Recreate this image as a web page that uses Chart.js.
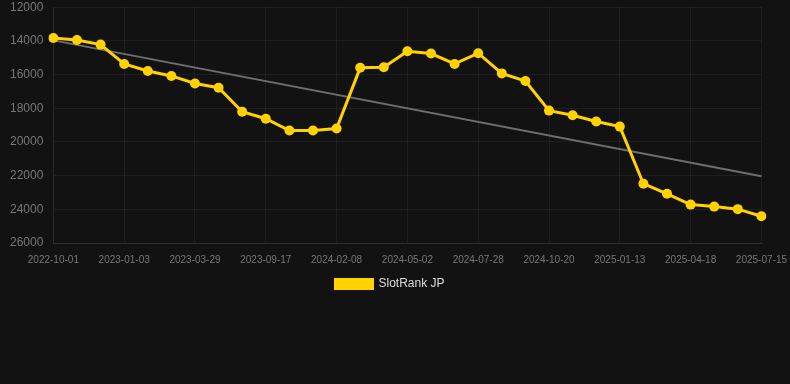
<!DOCTYPE html>
<html>
<head>
<meta charset="utf-8">
<script src="https://cdn.jsdelivr.net/npm/chart.js@4"></script>
<style>
	html, body { margin: 0; padding: 0; background: #121212; }
	.chartbox { width: 790px; height: 300px; }
</style>
</head>
<body>
<div class="chartbox"><canvas id="rankChart"></canvas></div>
<script>
// dates of each rank check
var labels = [
	'2022-10-01', '2022-11-01', '2022-12-02', '2023-01-03', '2023-01-31', '2023-02-28',
	'2023-03-29', '2023-05-25', '2023-07-21', '2023-09-17', '2023-11-05', '2023-12-22',
	'2024-02-08', '2024-03-07', '2024-04-04', '2024-05-02', '2024-05-31', '2024-06-29',
	'2024-07-28', '2024-08-25', '2024-09-22', '2024-10-20', '2024-11-17', '2024-12-15',
	'2025-01-13', '2025-02-14', '2025-03-18', '2025-04-18', '2025-05-17', '2025-06-15',
	'2025-07-15'
];

// rank values
var rankValues = [
	13830, 13950, 14220, 15370, 15790, 16080,
	16530, 16780, 18210, 18620, 19320, 19320,
	19200, 15600, 15560, 14620, 14750, 15370,
	14730, 15930, 16380, 18140, 18420, 18790,
	19090, 22480, 23080, 23720, 23840, 23990,
	24410
];

// trend line, only the two ends
var trendStart = 13970;
var trendEnd = 22040;
var trendValues = labels.map(function(l, i) {
	if (i === 0) return trendStart;
	if (i === labels.length - 1) return trendEnd;
	return null;
});

var yTicks = { min: 12000, max: 26000, step: 2000 };

var ctx = document.getElementById('rankChart');

window.rankChart = new Chart(ctx, {
	type: 'line',
	data: {
		labels: labels,
		datasets: [{
			label: 'SlotRank JP',
			data: rankValues,
			borderColor: '#ffd200',
			backgroundColor: '#ffd200',
			borderWidth: 3,
			pointRadius: 5,
			pointHoverRadius: 5,
			pointBackgroundColor: '#ffd200',
			pointBorderWidth: 0,
			tension: 0
		}, {
			label: 'trend',
			data: trendValues,
			borderColor: '#6e6e6e',
			borderWidth: 2,
			pointRadius: 0,
			spanGaps: true,
			fill: false
		}]
	},
	options: {
		responsive: true,
		maintainAspectRatio: false,
		animation: false,
		layout: { autoPadding: false, padding: { left: 10, right: 20, top: 0, bottom: 0 } },
		plugins: {
			tooltip: { enabled: false },
			legend: {
				position: 'bottom',
				labels: {
					color: '#dddddd',
					boxWidth: 37,
					boxHeight: 9,
					padding: 9,
					font: { family: '"Liberation Sans", Arial, sans-serif', size: 12 },
					filter: function(item) { return item.text !== 'trend'; }
				}
			}
		},
		scales: {
			x: {
				grid: { color: 'rgba(255,255,255,0.05)', tickLength: 8, tickColor: 'rgba(0,0,0,0)' },
				border: { color: 'rgba(255,255,255,0.08)' },
				ticks: {
					color: '#777777',
					maxRotation: 0,
					autoSkip: true,
					maxTicksLimit: 11,
					padding: 3,
					font: { family: '"Liberation Sans", Arial, sans-serif', size: 10 }
				}
			},
			y: {
				reverse: true,
				min: yTicks.min,
				max: yTicks.max,
				grid: { color: 'rgba(255,255,255,0.05)', tickLength: 10, tickColor: 'rgba(0,0,0,0)' },
				border: { color: 'rgba(255,255,255,0.05)' },
				ticks: {
					stepSize: yTicks.step,
					color: '#777777',
					padding: 0,
					font: { family: '"Liberation Sans", Arial, sans-serif', size: 12 },
					callback: function(value) { return String(value); }
				}
			}
		}
	}
});
</script>
</body>
</html>
